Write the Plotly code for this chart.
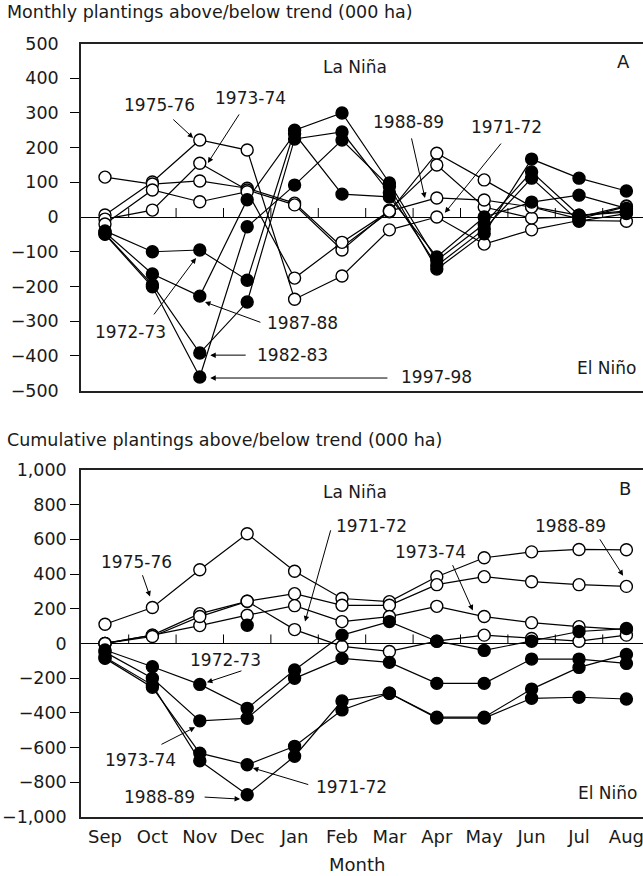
import plotly.graph_objects as go

# ---------------------------------------------------------------- data
months = ["Sep", "Oct", "Nov", "Dec", "Jan", "Feb", "Mar", "Apr", "May", "Jun", "Jul", "Aug"]

# Panel A - monthly plantings above/below trend (000 ha)
# La Niña seasons (open markers)
monthly_1975_76 = [6, 101, 222, 193, -237, -170, -37, 0, -78, -37, -10, -12]
monthly_1988_89 = [115, 95, 104, 83, 40, -86, 15, 184, 107, 30, 5, 14]
monthly_1973_74 = [-6, 20, 155, 78, 35, -95, 20, 150, 29, -3, 0, 32]
monthly_1971_72 = [-20, 78, 44, 73, -176, -73, 17, 55, 49, 29, -5, 30]
# El Niño seasons (filled markers)
monthly_1997_98 = [-50, -201, -461, -28, 92, 222, 88, -150, -48, 167, 112, 75]
monthly_1987_88 = [-44, -164, -228, 50, 240, 66, 58, -115, 0, 43, 63, 25]
monthly_1972_73 = [-40, -100, -95, -182, 250, 300, 98, -125, -20, 130, 5, 18]
monthly_1982_83 = [-48, -195, -392, -245, 225, 245, 70, -140, -35, 112, -12, 10]

# Panel B - cumulative plantings above/below trend (000 ha)
cum_1975_76 = [111, 207, 425, 632, 416, 259, 241, 385, 494, 528, 542, 540]
cum_1988_89 = [0, 48, 172, 243, 287, 220, 220, 339, 385, 356, 339, 329]
cum_1973_74 = [0, 48, 103, 163, 218, 126, 155, 214, 155, 120, 97, 80]
cum_1971_72 = [0, 40, 155, 243, 80, -17, -46, 13, 48, 29, 13, 48]
cum_1972_73 = [-38, -134, -236, -374, -153, 48, 126, 13, -40, 13, 69, 86]
cum_1987_88 = [-50, -201, -446, -431, -201, -86, -109, -230, -230, -90, -90, -115]
cum_1982_83 = [-86, -253, -632, -699, -593, -383, -287, -425, -425, -263, -138, -63]
cum_1997_98 = [-80, -240, -676, -872, -650, -331, -287, -430, -430, -316, -310, -320]
cum_dec_only = [None, None, None, 105, None, None, None, None, None, None, None, None]

# y-axis ticks
monthly_ticks = [-500, -400, -300, -200, -100, 0, 100, 200, 300, 400, 500]
cumulative_ticks = [-1000, -800, -600, -400, -200, 0, 200, 400, 600, 800, 1000]

# ---------------------------------------------------------------- styling
FONT = "DejaVu Sans"
INK = "#1a1a1a"
x_idx = list(range(len(months)))

panels = {
    "A": dict(xa="x", ya="y",
              open=[monthly_1975_76, monthly_1988_89, monthly_1973_74, monthly_1971_72],
              filled=[monthly_1997_98, monthly_1987_88, monthly_1972_73, monthly_1982_83]),
    "B": dict(xa="x2", ya="y2",
              open=[cum_1975_76, cum_1988_89, cum_1973_74, cum_1971_72],
              filled=[cum_1972_73, cum_1987_88, cum_1982_83, cum_1997_98, cum_dec_only]),
}

fig = go.Figure()

for key, p in panels.items():
    # connecting lines first, so every marker sits on top of them
    for series in p["open"] + p["filled"]:
        fig.add_trace(go.Scatter(x=x_idx, y=series, mode="lines", xaxis=p["xa"], yaxis=p["ya"],
                                 line=dict(color="black", width=1.2), connectgaps=False,
                                 hoverinfo="skip", showlegend=False))
    for series in p["open"]:
        fig.add_trace(go.Scatter(x=x_idx, y=series, mode="markers", xaxis=p["xa"], yaxis=p["ya"],
                                 marker=dict(size=12, color="white", line=dict(color="black", width=1.4)),
                                 showlegend=False))
    for series in p["filled"]:
        fig.add_trace(go.Scatter(x=x_idx, y=series, mode="markers", xaxis=p["xa"], yaxis=p["ya"],
                                 marker=dict(size=12, color="black", line=dict(color="black", width=1.4)),
                                 showlegend=False))


def fmt(v):
    s = f"{abs(v):,}"
    return ("\u2212" + s) if v < 0 else s


def y_axis(domain, rng, ticks, standoff):
    inner = [v for v in ticks if v not in (0, rng[0], rng[1])]
    return dict(domain=domain, range=rng, tickvals=ticks, ticktext=[fmt(v) for v in ticks],
                showline=True, mirror=True, linecolor="#222", linewidth=1.5, showgrid=False,
                zeroline=True, zerolinecolor="black", zerolinewidth=1.2, ticks="",
                ticklabelstandoff=standoff, automargin=False, ticklabeloverflow="allow",
                tickfont=dict(family=FONT, size=17.5, color=INK),
                minor=dict(tickmode="array", tickvals=inner, ticks="outside", ticklen=9,
                           tickcolor="black", tickwidth=1, showgrid=False))


x_range = [-0.506, 11.35]
axis_common = dict(range=x_range, domain=[0, 1], showline=True, mirror=True, linecolor="#222",
                   linewidth=1.5, showgrid=False, zeroline=False, ticks="", automargin=False,
                   ticklabeloverflow="allow",
                   tickvals=x_idx, ticktext=months, tickfont=dict(family=FONT, size=18, color=INK))

fig.update_layout(
    width=643, height=876,
    margin=dict(l=81, r=0, t=0, b=0, autoexpand=False),
    paper_bgcolor="white", plot_bgcolor="white",
    font=dict(family=FONT, size=17, color=INK),
    xaxis=dict(anchor="y", showticklabels=False, **axis_common),
    xaxis2=dict(anchor="y2", showticklabels=True, ticklabelstandoff=3, **axis_common),
    yaxis=dict(anchor="x", **y_axis([0.5542, 0.9503], [-500, 500], monthly_ticks, 17)),
    yaxis2=dict(anchor="x2", **y_axis([0.0674, 0.4635], [-1000, 1000], cumulative_ticks, 9)),
)

# month boundary ticks standing up from the zero line
shapes = []
for xa, ya in (("x", "y"), ("x2", "y2")):
    for i in range(len(months) - 1):
        shapes.append(dict(type="line", xref=xa, yref=ya, x0=i + 0.5, x1=i + 0.5,
                           ysizemode="pixel", yanchor=0, y0=0, y1=9,
                           line=dict(color="black", width=1)))
fig.update_layout(shapes=shapes)

annotations = []


def label(text, x, y, xa, ya, size=17, anchor="center"):
    annotations.append(dict(text=text, x=x, y=y, xref=xa, yref=ya, showarrow=False,
                            xanchor=anchor, yanchor="middle", font=dict(family=FONT, size=size, color=INK)))


def arrow(tail, head, xa, ya):
    annotations.append(dict(text="", x=head[0], y=head[1], ax=tail[0], ay=tail[1],
                            xref=xa, yref=ya, axref=xa, ayref=ya, showarrow=True,
                            arrowhead=2, arrowsize=1.1, arrowwidth=1, arrowcolor="black"))


# panel titles and axis title
label("Monthly plantings above/below trend (000 ha)", -0.1352, 1 - 12 / 876, "paper", "paper", size=17.5, anchor="left")
label("Cumulative plantings above/below trend (000 ha)", -0.1352, 1 - 440 / 876, "paper", "paper", size=17.5, anchor="left")
label("Month", 5.32, 1 - 864 / 876, "x2", "paper", size=18)

# panel A annotations
label("La Niña", 5.27, 432, "x", "y")
label("A", 10.93, 447, "x", "y", size=18)
label("El Niño", 10.59, -435, "x", "y")
for text, pos, tail, head in [
    ("1975-76", (1.16, 323), (1.41, 285), (1.86, 228)),
    ("1973-74", (3.06, 343), (2.85, 300), (2.17, 156)),
    ("1988-89", (6.41, 274), (6.46, 231), (6.75, 55)),
    ("1971-72", (8.46, 259), (8.38, 216), (7.17, 12)),
    ("1972-73", (0.53, -331), (1.01, -285), (1.92, -118)),
    ("1987-88", (4.16, -305), (3.31, -305), (2.11, -245)),
    ("1982-83", (3.95, -398), (3.00, -398), (2.22, -398)),
    ("1997-98", (7.00, -461), (5.99, -464), (2.22, -464)),
]:
    label(text, pos[0], pos[1], "x", "y")
    arrow(tail, head, "x", "y")

# panel B annotations
label("La Niña", 5.28, 874, "x2", "y2")
label("B", 10.97, 891, "x2", "y2", size=18)
label("El Niño", 10.61, -862, "x2", "y2")
for text, pos, tail, head in [
    ("1975-76", (0.675, 471), (0.78, 402), (0.95, 270)),
    ("1971-72", (5.62, 678), (4.77, 661), (4.22, 126)),
    ("1973-74", (6.87, 529), (7.32, 460), (7.76, 190)),
    ("1988-89", (9.82, 678), (10.42, 609), (10.93, 391)),
    ("1972-73", (2.55, -98), (2.91, -155), (2.15, -224)),
    ("1973-74", (0.74, -672), (1.16, -586), (1.90, -483)),
    ("1988-89", (1.16, -885), (2.07, -885), (2.85, -897)),
    ("1971-72", (5.19, -828), (4.32, -816), (3.12, -718)),
]:
    label(text, pos[0], pos[1], "x2", "y2")
    arrow(tail, head, "x2", "y2")

fig.update_layout(annotations=annotations)

fig.write_html("out.html")
